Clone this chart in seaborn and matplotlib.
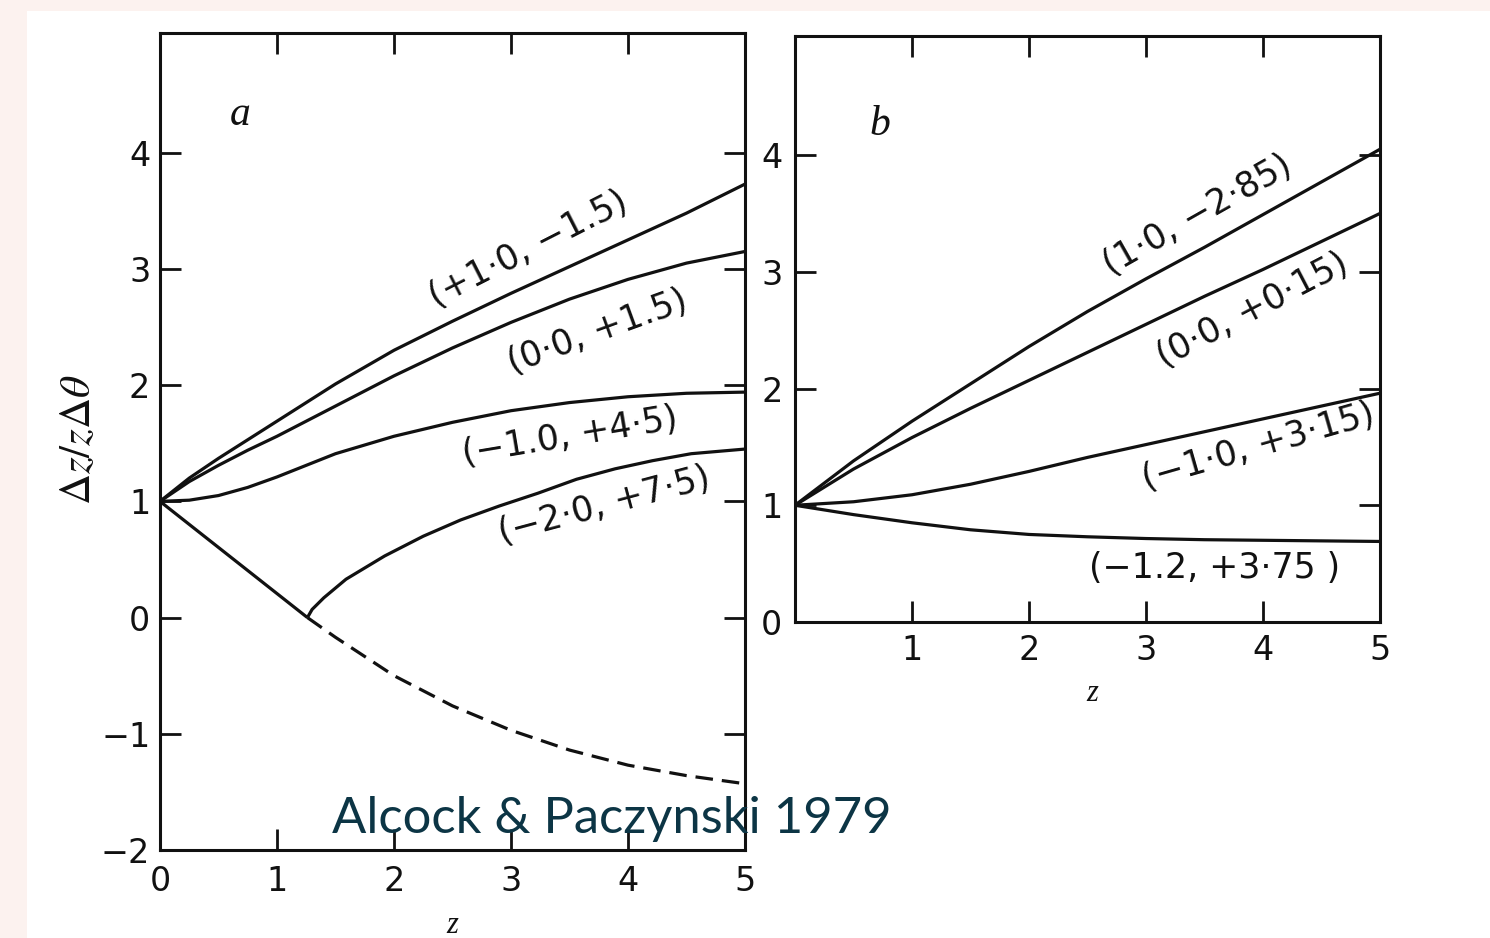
import matplotlib
matplotlib.use("Agg")
import matplotlib.pyplot as plt
import seaborn as sns
import pandas as pd
from matplotlib.patches import Rectangle

# ---------------- data ----------------
# panel a: redshift grid and curves labelled by their parameter pairs
z_a = [0, 0.25, 0.5, 0.75, 1, 1.5, 2, 2.5, 3, 3.5, 4, 4.5, 5]
a_p10_m15 = [1.0, 1.20, 1.37, 1.53, 1.69, 2.01, 2.30, 2.55, 2.79, 3.02, 3.25, 3.48, 3.73]
a_00_p15 = [1.0, 1.17, 1.31, 1.44, 1.56, 1.82, 2.08, 2.32, 2.54, 2.74, 2.91, 3.05, 3.15]
a_m10_p45 = [1.0, 1.01, 1.05, 1.12, 1.21, 1.41, 1.56, 1.68, 1.78, 1.85, 1.90, 1.93, 1.94]

# (-2.0, +7.5): falling part, positive branch and negative (dashed) branch
z_a4_fall = [0, 1.26]
a4_fall = [1.0, 0.0]
z_a4_pos = [1.26, 1.30, 1.40, 1.59, 1.92, 2.25, 2.57, 2.90, 3.23, 3.56, 3.89, 4.21, 4.54, 5.0]
a4_pos = [0.0, 0.07, 0.17, 0.33, 0.53, 0.70, 0.84, 0.96, 1.07, 1.19, 1.28, 1.35, 1.41, 1.45]
z_a4_neg = [1.26, 1.5, 2, 2.5, 3, 3.5, 4, 4.5, 5]
a4_neg = [0.0, -0.17, -0.50, -0.76, -0.97, -1.14, -1.27, -1.36, -1.43]

# panel b
z_b = [0, 0.5, 1, 1.5, 2, 2.5, 3, 3.5, 4, 4.5, 5]
b_10_m285 = [1.0, 1.38, 1.72, 2.04, 2.36, 2.66, 2.94, 3.21, 3.49, 3.77, 4.05]
b_00_p015 = [1.0, 1.31, 1.58, 1.83, 2.07, 2.31, 2.55, 2.79, 3.02, 3.26, 3.50]
b_m10_p315 = [1.0, 1.03, 1.09, 1.18, 1.29, 1.41, 1.52, 1.63, 1.74, 1.85, 1.96]
b_m12_p375 = [1.0, 0.92, 0.85, 0.79, 0.75, 0.73, 0.715, 0.705, 0.70, 0.695, 0.69]

labels_a = ["(+1·0, −1.5)", "(0·0, +1.5)", "(−1.0, +4·5)", "(−2·0, +7·5)"]
labels_b = ["(1·0, −2·85)", "(0·0, +0·15)", "(−1·0, +3·15)", "(−1.2, +3·75 )"]

xticks_a = [0, 1, 2, 3, 4, 5]
yticks_a = [-2, -1, 0, 1, 2, 3, 4]
xticks_b = [1, 2, 3, 4, 5]
yticks_b = [0, 1, 2, 3, 4]

# ---------------- style ----------------
sns.set_theme(style="ticks")
plt.rcParams.update({
    "font.family": ["DejaVu Sans"],
    "mathtext.fontset": "stix",
    "axes.linewidth": 2.2,
    "axes.edgecolor": "black",
    "xtick.color": "black",
    "ytick.color": "black",
})

W, H = 1490, 938
fig = plt.figure(figsize=(W / 100, H / 100), dpi=100)
fig.patch.set_facecolor("#fcf2ef")
fig.add_artist(Rectangle((27 / W, 0), 1 - 27 / W, 1 - 11 / H,
                         transform=fig.transFigure, facecolor="white",
                         edgecolor="none", zorder=-10))

ax_a = fig.add_axes([160 / W, 1 - 850 / H, 585 / W, 817 / H])
ax_b = fig.add_axes([795 / W, 1 - 622 / H, 585 / W, 586 / H])

LW = 2.3
INK = "#111111"


def curve(ax, x, y, dashed=False):
    df = pd.DataFrame({"z": x, "v": y})
    sns.lineplot(data=df, x="z", y="v", ax=ax, color=INK, lw=LW,
                 sort=False, legend=False)
    line = ax.lines[-1]
    line.set_solid_capstyle("butt")
    line.set_solid_joinstyle("round")
    if dashed:
        line.set_dashes([5.5, 2.8])


for ys in (a_p10_m15, a_00_p15, a_m10_p45):
    curve(ax_a, z_a, ys)
curve(ax_a, z_a4_fall, a4_fall)
curve(ax_a, z_a4_pos, a4_pos)
curve(ax_a, z_a4_neg, a4_neg, dashed=True)

for ys in (b_10_m285, b_00_p015, b_m10_p315, b_m12_p375):
    curve(ax_b, z_b, ys)

# curve annotations: (x, y, rotation)
place_a = [(3.15, 3.17, 27), (3.74, 2.46, 20), (3.50, 1.56, 9.5), (3.80, 0.97, 15)]
place_b = [(3.44, 3.49, 29.5), (3.91, 2.67, 27.5), (3.96, 1.50, 16), (3.59, 0.46, 0)]
for ax, labs, places in ((ax_a, labels_a, place_a), (ax_b, labels_b, place_b)):
    for lab, (x, y, r) in zip(labs, places):
        ax.text(x, y, lab, rotation=r, rotation_mode="anchor", ha="center",
                va="center", fontsize=25, color=INK,
                family=["DejaVu Sans"])

# axes formatting
ax_a.set_xlim(0, 5)
ax_a.set_ylim(-2.0, 5.03)
ax_a.set_xticks(xticks_a)
ax_a.set_yticks(yticks_a)
ax_a.set_xticklabels([str(t) for t in xticks_a])
ax_a.set_yticklabels([str(t).replace("-", "−") for t in yticks_a])

ax_b.set_xlim(0, 5)
ax_b.set_ylim(0, 5.02)
ax_b.set_xticks(xticks_b)
ax_b.set_yticks(yticks_b)
ax_b.set_xticklabels([str(t) for t in xticks_b])
ax_b.set_yticklabels([str(t) for t in yticks_b])

for ax in (ax_a, ax_b):
    ax.set_xlabel("")
    ax.set_ylabel("")
    ax.set_facecolor("none")
    for s in ax.spines.values():
        s.set_visible(True)
        s.set_linewidth(2.2)
        s.set_color(INK)
    ax.tick_params(direction="in", length=15, width=2.0, top=True, right=True,
                   labelsize=24, colors=INK)
ax_a.tick_params(axis="y", pad=7)
ax_a.tick_params(axis="x", pad=11)
ax_b.tick_params(axis="y", pad=9)
ax_b.tick_params(axis="x", pad=9)

# panel letters
ax_a.text(0.137, 0.90, "a", transform=ax_a.transAxes, fontsize=30,
          style="italic", family=["Liberation Serif"], ha="center", va="center",
          color=INK)
ax_b.text(0.145, 0.848, "b", transform=ax_b.transAxes, fontsize=30,
          style="italic", family=["Liberation Serif"], ha="center", va="center",
          color=INK)

# axis titles
fig.text(78 / W, 1 - 440 / H, r"$\Delta z/z\Delta\theta$", rotation=90,
         ha="center", va="center", fontsize=31, color=INK)
fig.text(452 / W, 1 - 925 / H, "z", fontsize=22, style="italic",
         family=["Liberation Serif"], ha="center", va="center", color=INK)
fig.text(1092 / W, 1 - 693 / H, "z", fontsize=22, style="italic",
         family=["Liberation Serif"], ha="center", va="center", color=INK)

# citation
fig.text(612 / W, 1 - 819 / H, "Alcock & Paczynski 1979", fontsize=36.5,
         family=["Lato", "DejaVu Sans"], color="#0c3545", ha="center",
         va="center", zorder=20)

fig.savefig("out.png", dpi=100, facecolor=fig.get_facecolor())
